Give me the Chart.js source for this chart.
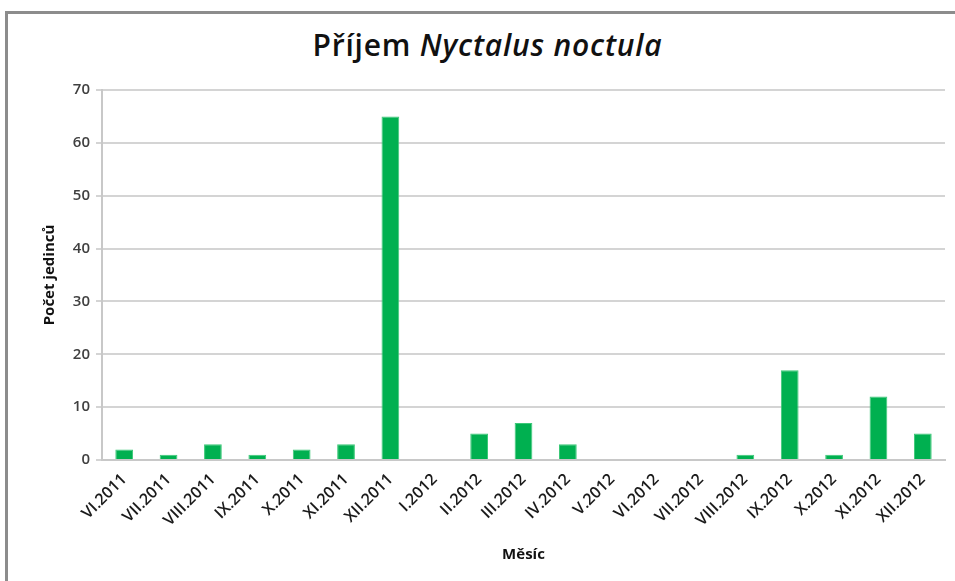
<!DOCTYPE html>
<html>
<head>
<meta charset="utf-8">
<script src="https://cdn.jsdelivr.net/npm/chart.js@4.4.0/dist/chart.umd.min.js"></script>
<style>
  html, body { margin: 0; padding: 0; background: #fff; }
  #wrap { position: relative; width: 955px; height: 581px; overflow: hidden; }
  #frame { position: absolute; left: 5px; top: 11px; width: 960px; height: 600px;
    border-top: 3px solid #8c8c8c; border-left: 3px solid #8c8c8c; }
  #title { position: absolute; left: 0; width: 975px; top: 24px; text-align: center;
    font-family: "Open Sans", sans-serif; font-size: 30px; font-weight: 600; color: #111; letter-spacing: 0.8px; }
  canvas { position: absolute; left: 0; top: 0; }
</style>
</head>
<body>
<div id="wrap">
  <div id="frame"></div>
  <div id="title">Příjem <i>Nyctalus noctula</i></div>
  <canvas id="bar-chart" width="955" height="581"></canvas>
</div>
<script>
const months = ['VI.2011', 'VII.2011', 'VIII.2011', 'IX.2011', 'X.2011', 'XI.2011', 'XII.2011',
  'I.2012', 'II.2012', 'III.2012', 'IV.2012', 'V.2012', 'VI.2012', 'VII.2012', 'VIII.2012',
  'IX.2012', 'X.2012', 'XI.2012', 'XII.2012'];
const counts = [2, 1, 3, 1, 2, 3, 65, 0, 5, 7, 3, 0, 0, 0, 1, 17, 1, 12, 5];
const yTicks = [0, 10, 20, 30, 40, 50, 60, 70];

const font = "'Open Sans', sans-serif";

const config = {
  type: 'bar',
  data: {
    labels: months,
    datasets: [{
      label: 'Počet jedinců',
      data: counts,
      backgroundColor: '#00b050',
      borderColor: '#3cc878',
      borderWidth: 1,
      barPercentage: 0.4,
      categoryPercentage: 1
    }]
  },
  options: {
    responsive: false,
    animation: false,
    layout: { padding: { left: 37, top: 90, right: 10, bottom: 0 } },
    plugins: { legend: { display: false }, title: { display: false }, tooltip: { enabled: false } },
    scales: {
      x: {
        grid: { display: false },
        border: { color: '#c8c8c8', width: 2 },
        ticks: { color: '#1a1a1a', font: { family: font, size: 16, weight: '600' }, minRotation: 45, maxRotation: 45, padding: 2 },
        title: { display: true, text: 'Měsíc', color: '#111', font: { family: font, size: 15, weight: 'bold' }, padding: { top: 4, bottom: 17 } },
        afterFit: s => { s.height = 121; }
      },
      y: {
        min: 0, max: 70,
        afterBuildTicks: s => { s.ticks = yTicks.map(v => ({ value: v })); },
        grid: { color: '#d4d4d4', lineWidth: 2, tickLength: 6 },
        border: { color: '#c8c8c8', width: 2 },
        ticks: { color: '#404040', font: { family: font, size: 15, weight: '600' }, padding: 6 },
        title: { display: true, text: 'Počet jedinců', color: '#111', font: { family: font, size: 15, weight: 'bold' }, padding: { bottom: 4 } },
        afterFit: s => { s.width = 65; }
      }
    }
  }
};

const ctx = document.getElementById('bar-chart').getContext('2d');
window.myBar = new Chart(ctx, config);
</script>
</body>
</html>
